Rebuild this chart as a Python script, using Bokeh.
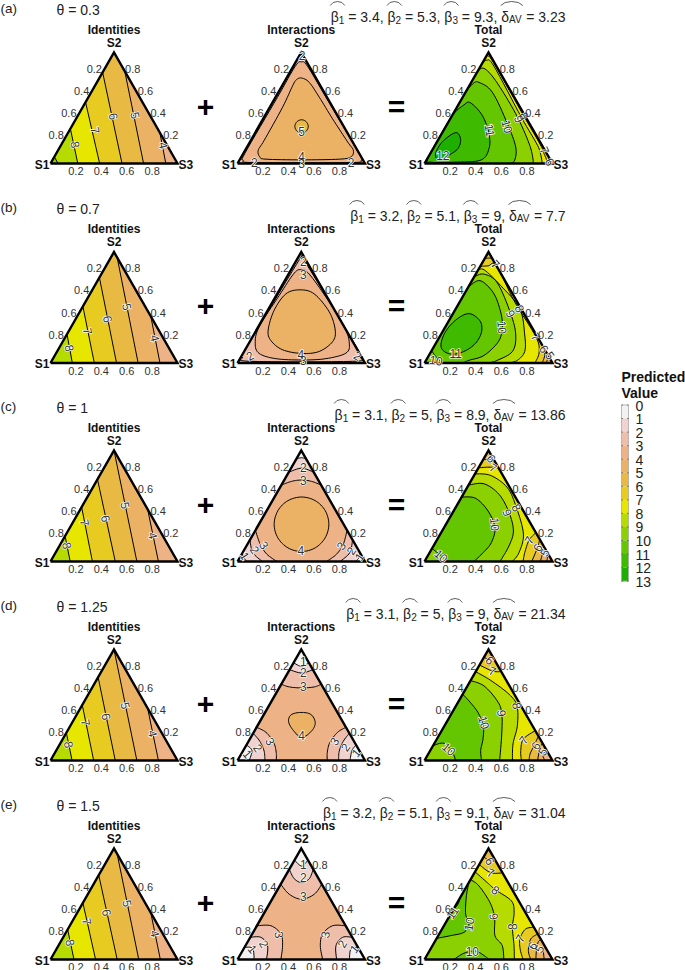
from collections import defaultdict
from bokeh.plotting import figure
from bokeh.models import Range1d, ColumnDataSource
from bokeh.embed import file_html
from bokeh.resources import INLINE

# All contour vertices and label positions below are compositions (p3, p2) read off
# the reference picture; a shape is (level, colour band, closure, vertices).
THETA = ["0.3", "0.7", "1", "1.25", "1.5"]
TAGS = ["(a)", "(b)", "(c)", "(d)", "(e)"]
BETA1 = ["3.4", "3.2", "3.1", "3.1", "3.2"]
BETA2 = ["5.3", "5.1", "5", "5", "5.1"]
BETA3 = ["9.3", "9", "8.9", "9", "9.1"]
DELTA = ["3.23", "7.7", "13.86", "21.34", "31.04"]
TICKS = [0.2, 0.4, 0.6, 0.8]
LEGEND_VALUES = list(range(14))
BAND_COLORS = ["#F2F2F2", "#F0D3CE", "#EFBEAA", "#EDB387", "#EBB265", "#E9BA43", "#E7CB21",
               "#E6E600", "#B6DB00", "#8BD000", "#63C600", "#3EBB00", "#1DB000"]

ID_A = [(4, 4, "S1S2", [(.722, .278), (.908, 0)]), (5, 5, "S1S2", [(.17, .83), (.733, 0)]),
        (6, 6, "S1", [(0, .821), (.563, 0)]), (7, 7, "S1", [(0, .552), (.387, 0)]),
        (8, 8, "S1", [(0, .313), (.215, 0)]), (9, 9, "S1", [(0, .06), (.06, 0)])]
ID_B = [(4, 4, "S1S2", [(.58, .42), (.862, 0)]), (5, 5, "S1S2", [(.05, .95), (.69, 0)]),
        (6, 6, "S1", [(0, .77), (.52, 0)]), (7, 7, "S1", [(0, .51), (.345, 0)]),
        (8, 8, "S1", [(0, .26), (.172, 0)])]
ID_C = [(4, 4, "S1S2", [(.53, .47), (.85, 0)]), (5, 5, "S1S2", [(0, 1), (.68, 0)]),
        (6, 6, "S1", [(0, .74), (.51, 0)]), (7, 7, "S1", [(0, .49), (.33, 0)]),
        (8, 8, "S1", [(0, .23), (.155, 0)])]
ID_D = [(4, 4, "S1S2", [(.53, .47), (.85, 0)]), (5, 5, "S1S2", [(0, 1), (.68, 0)]),
        (6, 6, "S1", [(0, .75), (.51, 0)]), (7, 7, "S1", [(0, .5), (.34, 0)]),
        (8, 8, "S1", [(0, .25), (.17, 0)])]
ID_E = [(4, 4, "S1S2", [(.58, .42), (.865, 0)]), (5, 5, "S1S2", [(.05, .95), (.695, 0)]),
        (6, 6, "S1", [(0, .76), (.525, 0)]), (7, 7, "S1", [(0, .51), (.355, 0)]),
        (8, 8, "S1", [(0, .27), (.185, 0)])]
ID_A_LABELS = [("8", .111, .17, -78), ("7", .204, .299, -78), ("6", .285, .424, -78), ("5", .451, .433, -78), ("4", .808, .164, -78)]
ID_B_LABELS = [("8", .083, .135, -78), ("7", .15, .288, -78), ("6", .253, .396, -78), ("5", .35, .505, -78), ("4", .711, .225, -78)]
ID_C_LABELS = [("8", .058, .144, -78), ("7", .094, .351, -78), ("6", .243, .387, -78), ("5", .337, .505, -78), ("4", .691, .234, -78)]
ID_D_LABELS = [("8", .072, .144, -78), ("7", .107, .342, -78), ("6", .241, .396, -78), ("5", .343, .495, -78), ("4", .685, .243, -78)]
ID_E_LABELS = [("8", .08, .153, -78), ("7", .117, .342, -78), ("6", .233, .423, -78), ("5", .352, .505, -78), ("4", .706, .234, -78)]

INT_A = [(3, 3, "loop", [(.045, .916), (.112, .875), (.395, .597), (.913, .084), (.956, .03), (.912, .009), (.5, .006),
                         (.087, .009), (.03, .03), (.012, .096), (.015, .597), (.015, .875)]),
         (4, 4, "loop", [(.118, .77), (.197, .731), (.343, .597), (.544, .403), (.767, .194), (.849, .119), (.86, .06),
                         (.779, .039), (.486, .033), (.203, .039), (.145, .06), (.103, .119), (.105, .209), (.1, .507),
                         (.082, .701), (.085, .755)]),
         (5, 5, "loop", [(.306, .394), (.351, .376), (.388, .334), (.393, .293), (.365, .275), (.319, .293), (.283, .334), (.278, .376)])]
INT_A_LABELS = [("2", .02, .975, 0), ("2", .127, .009, 0), ("2", .886, .009, 0), ("5", .361, .284, 0), ("4", .473, .06, 0), ("3", .5, .004, 0)]
INT_B = [(2, 2, "loop", [(.032, .941), (.097, .89), (.878, .128), (.941, .05), (.895, .015), (.097, .015), (.014, .05), (.001, .128), (.018, .89)]),
         (3, 3, "loop", [(.083, .84), (.162, .801), (.397, .593), (.675, .326), (.788, .178), (.806, .089), (.674, .039), (.489, .027),
                         (.281, .039), (.127, .086), (.05, .178), (.007, .326), (.023, .608), (.04, .81)]),
         (4, 4, "loop", [(.16, .659), (.29, .623), (.49, .46), (.618, .297), (.65, .193), (.589, .104), (.46, .086), (.294, .119),
                         (.161, .202), (.092, .297), (.05, .475), (.068, .623)])]
INT_B_LABELS = [("2", .06, .911, 0), ("3", .115, .801, 0), ("2", .064, .065, 30), ("2", .91, .065, -30), ("4", .457, .08, 0), ("3", .504, .024, 0)]
INT_C = [(4, 4, "loop", [(.212, .581), (.336, .548), (.459, .458), (.549, .335), (.581, .213), (.548, .123), (.458, .09), (.334, .123),
                         (.21, .213), (.12, .335), (.088, .458), (.121, .548)]),
         (3, 2, "S2", [(0, .689), (.063, .722), (.136, .734), (.22, .722), (.311, .689)]),
         (2, 1, "S2", [(0, .805), (.083, .841), (.195, .805)]),
         (1, 0, "S2", [(0, .925), (.035, .935), (.075, .925)]),
         (3, 2, "S3", [(.719, .281), (.752, .156), (.744, .066), (.699, 0)]),
         (2, 1, "S3", [(.805, .195), (.841, .08), (.805, 0)]),
         (1, 0, "S3", [(.925, .075), (.935, .0325), (.925, 0)]),
         (3, 2, "S1", [(0, .281), (.1, .156), (.197, .066), (.309, 0)]),
         (2, 1, "S1", [(0, .195), (.08, .08), (.195, 0)]),
         (1, 0, "S1", [(0, .075), (.0325, .0325), (.075, 0)])]
INT_C_LABELS = [("2", .094, .844, 0), ("3", .149, .734, 0), ("4", .449, .096, 0), ("3", .136, .147, -57), ("2", .084, .105, -57),
                ("1", .033, .05, -57), ("3", .741, .141, 57), ("2", .842, .096, 57), ("1", .934, .042, 57)]
INT_D = [(4, 4, "loop", [(.281, .433), (.368, .415), (.438, .343), (.449, .269), (.402, .206), (.305, .269), (.226, .349), (.215, .412)]),
         (3, 2, "S2", [(0, .687), (.075, .663), (.176, .654), (.271, .663), (.313, .687)]),
         (2, 1, "S2", [(0, .818), (.109, .788), (.182, .818)]),
         (1, 0, "S2", [(0, .88), (.079, .848), (.12, .88)]),
         (3, 2, "S3", [(.701, .299), (.658, .254), (.643, .164), (.667, .075), (.704, 0)]),
         (2, 1, "S3", [(.755, .245), (.743, .173), (.756, .084), (.793, 0)]),
         (1, 0, "S3", [(.86, .14), (.853, .09), (.882, 0)]),
         (3, 2, "S1", [(0, .299), (.096, .254), (.201, .164), (.266, .075), (.304, 0)]),
         (2, 1, "S1", [(0, .245), (.089, .173), (.167, .084), (.215, 0)]),
         (1, 0, "S1", [(0, .14), (.068, .09), (.092, 0)])]
INT_D_LABELS = [("1", .068, .896, 0), ("2", .117, .797, 0), ("3", .183, .666, 0), ("4", .391, .224, 0), ("3", .17, .173, -60), ("2", .106, .113, -55),
                ("1", .049, .06, -50), ("3", .673, .173, 60), ("2", .786, .119, 55), ("1", .895, .069, 50)]
INT_E = [(3, 2, "S2", [(0, .678), (.112, .588), (.231, .543), (.308, .588), (.322, .678)]),
         (2, 1, "S2", [(0, .812), (.081, .728), (.157, .693), (.199, .728), (.188, .812)]),
         (1, 0, "S2", [(0, .895), (.082, .842), (.105, .895)]),
         (3, 2, "S3", [(.696, .304), (.594, .304), (.553, .23), (.587, .125), (.668, 0)]),
         (2, 1, "S3", [(.8, .2), (.725, .2), (.71, .125), (.777, 0)]),
         (1, 0, "S3", [(.89, .11), (.842, .096), (.877, 0)]),
         (3, 2, "S1", [(0, .304), (.11, .304), (.225, .23), (.291, .125), (.34, 0)]),
         (2, 1, "S1", [(0, .2), (.083, .2), (.173, .125), (.228, 0)]),
         (1, 0, "S1", [(0, .11), (.068, .1), (.131, 0)])]
INT_E_LABELS = [("1", .088, .857, 0), ("2", .147, .737, 0), ("3", .233, .567, 0), ("3", .215, .224, -80), ("2", .139, .14, -60),
                ("1", .07, .096, -50), ("3", .576, .224, 80), ("2", .749, .14, 60), ("1", .868, .096, 50)]

TOT_A = [(7, 7, "S1", [(0, .96), (.01, .97), (.10, .895), (.55, .44), (.815, .175), (.88, .10), (.935, .035), (.95, 0)]),
         (8, 8, "S1", [(0, .90), (.02, .931), (.106, .875), (.55, .415), (.80, .165), (.875, .07), (.92, 0)]),
         (9, 9, "S1", [(0, .83), (.036, .857), (.183, .746), (.489, .448), (.728, .179), (.834, .03), (.84, 0)]),
         (10, 10, "S1", [(0, .648), (.02, .722), (.06, .731), (.209, .642), (.469, .358), (.638, .149), (.69, .03), (.67, 0)]),
         (11, 11, "loop", [(.087, .546), (.235, .433), (.369, .269), (.437, .134), (.424, .03), (.224, .012), (.046, .012),
                           (.004, .054), (0, .412), (.044, .528)]),
         (12, 12, "loop", [(.104, .278), (.173, .218), (.194, .134), (.153, .075), (.094, .036), (.044, .084), (.041, .194)]),
         (6, 5, "S3", [(.94, .06), (.955, .025), (.965, 0)])]
TOT_A_LABELS = [("12", .106, .075, 0), ("11", .362, .299, -80), ("10", .481, .334, -75), ("9", .537, .403, -65), ("8", .564, .43, -65),
                ("7", .88, .119, -65), ("6", .971, .015, -60)]
TOT_B = [(6, 5, "S2", [(0, .94), (.03, .945), (.06, .94)]),
         (7, 7, "S1", [(0, .87), (.06, .875), (.125, .875), (.42, .56), (.751, .237), (.844, .104), (.862, .015), (.85, 0)]),
         (8, 8, "S1", [(0, .83), (.045, .84), (.247, .697), (.499, .49), (.657, .252), (.731, .104), (.714, .024), (.66, 0)]),
         (9, 9, "S1", [(0, .777), (.064, .801), (.209, .721), (.451, .445), (.587, .252), (.635, .104), (.557, .024), (.5, 0)]),
         (10, 10, "S1", [(0, .682), (.062, .742), (.222, .632), (.365, .46), (.448, .32), (.481, .193), (.431, .068), (.335, .024), (.3, 0)]),
         (10, 9, "S1", [(.14, 0), (.07, .05), (0, .11)]),
         (11, 11, "loop", [(.125, .445), (.243, .38), (.305, .282), (.31, .178), (.256, .104), (.164, .08), (.061, .139), (.023, .267), (.05, .386)]),
         (6, 5, "S3", [(.855, .14), (.903, .074), (.919, 0)]),
         (5, 4, "S3", [(.93, .07), (.945, .03), (.95, 0)])]
TOT_B_LABELS = [("11", .199, .089, 0), ("10", .079, .024, -10), ("10", .448, .32, -85), ("9", .451, .445, -65), ("8", .499, .49, -65),
                ("7", .111, .89, -45), ("7", .751, .237, -55), ("6", .871, .128, -55), ("5", .948, .068, -55)]
TOT_C = [(8, 8, "S1", [(0, .79), (.13, .775), (.315, .665), (.476, .485), (.65, .246), (.698, .081), (.687, 0)]),
         (9, 9, "S1", [(0, .689), (.115, .70), (.28, .605), (.441, .44), (.557, .275), (.59, .141), (.59, 0)]),
         (10, 10, "S1", [(0, .581), (.115, .569), (.269, .455), (.398, .305), (.437, .171), (.419, .081), (.386, 0)]),
         (10, 9, "S1", [(.178, 0), (.097, .057), (0, .117)]),
         (7, 6, "S2", [(0, .844), (.079, .85), (.156, .844)]),
         (6, 5, "S2", [(0, .919), (.04, .92), (.081, .919)]),
         (7, 6, "S3", [(.74, .26), (.721, .192), (.743, .081), (.77, 0)]),
         (6, 5, "S3", [(.80, .2), (.82, .126), (.838, 0)]),
         (5, 4, "S3", [(.87, .13), (.885, .075), (.905, 0)]),
         (4, 3, "S3", [(.93, .07), (.945, .03), (.955, 0)])]
TOT_C_LABELS = [("10", .383, .335, -85), ("10", .105, .051, -40), ("9", .428, .44, -70), ("8", .476, .485, -60), ("7", .116, .844, -30),
                ("6", .058, .928, -50), ("7", .721, .192, 60), ("6", .82, .126, 60), ("5", .897, .081, 60)]
TOT_D = [(8, 8, "S1", [(0, .80), (.156, .722), (.362, .597), (.476, .493), (.569, .313), (.617, .149), (.687, 0)]),
         (9, 9, "S1", [(0, .72), (.129, .672), (.30, .537), (.39, .427), (.484, .239), (.587, 0)]),
         (10, 10, "S1", [(0, .597), (.079, .537), (.201, .433), (.303, .313), (.36, .194), (.394, .09), (.446, 0)]),
         (10, 9, "S1", [(0, .134), (.074, .155), (.18, .075), (.243, 0)]),
         (7, 6, "S2", [(0, .86), (.127, .806), (.194, .80)]),
         (6, 5, "S2", [(0, .93), (.06, .904), (.10, .90)]),
         (7, 6, "S3", [(.731, .269), (.676, .194), (.707, .09), (.757, 0)]),
         (6, 5, "S3", [(.78, .22), (.789, .134), (.795, .06), (.817, 0)]),
         (5, 4, "S3", [(.845, .155), (.844, .119), (.883, 0)]),
         (4, 3, "S3", [(.91, .09), (.90, .05), (.94, 0)])]
TOT_D_LABELS = [("6", .06, .904, -45), ("7", .127, .806, -20), ("8", .476, .493, -80), ("9", .39, .427, -85), ("10", .294, .343, -75),
                ("10", .139, .104, -40), ("7", .68, .185, 55), ("6", .802, .134, 55), ("5", .882, .081, 55)]
TOT_E = [(8, 8, "S1", [(0, .79), (.144, .693), (.242, .627), (.415, .528), (.488, .424), (.542, .29), (.637, .125), (.702, 0)]),
         (9, 9, "S1", [(0, .72), (.094, .663), (.255, .513), (.358, .379), (.443, .215), (.545, .125), (.62, 0)]),
         (10, 10, "", [(0, .69), (.047, .558), (.117, .409), (.188, .319), (.186, .245), (.097, .215), (0, .19)]),
         (10, 10, "", [(.23, 0), (.28, .057), (.362, .075), (.447, .036), (.504, 0)]),
         (11, 11, "", [(0, .44), (.012, .5), (0, .56)]),
         (7, 6, "S2", [(0, .855), (.126, .782), (.22, .78)]),
         (6, 5, "S2", [(0, .925), (.068, .887), (.11, .89)]),
         (7, 6, "S3", [(.71, .29), (.653, .275), (.651, .191), (.699, .096), (.77, 0)]),
         (6, 5, "S3", [(.77, .23), (.738, .185), (.771, .081), (.83, 0)]),
         (5, 4, "S3", [(.82, .18), (.81, .155), (.834, .081), (.87, 0)]),
         (4, 3, "S3", [(.885, .115), (.889, .081), (.935, 0)])]
TOT_E_LABELS = [("11", .005, .424, 55), ("10", .188, .319, 80), ("10", .336, .075, 0), ("9", .349, .388, -80), ("8", .242, .627, -35),
                ("8", .539, .296, 90), ("7", .126, .782, -20), ("6", .068, .887, -60), ("7", .651, .191, 60), ("6", .78, .125, 60), ("5", .848, .096, 60)]

PANELS = [
    [(3, ID_A, ID_A_LABELS), (2, INT_A, INT_A_LABELS), (6, TOT_A, TOT_A_LABELS)],
    [(3, ID_B, ID_B_LABELS), (1, INT_B, INT_B_LABELS), (6, TOT_B, TOT_B_LABELS)],
    [(3, ID_C, ID_C_LABELS), (3, INT_C, INT_C_LABELS), (7, TOT_C, TOT_C_LABELS)],
    [(3, ID_D, ID_D_LABELS), (3, INT_D, INT_D_LABELS), (7, TOT_D, TOT_D_LABELS)],
    [(3, ID_E, ID_E_LABELS), (3, INT_E, INT_E_LABELS), (7, TOT_E, TOT_E_LABELS)],
]
TITLES = ["Identities", "Interactions", "Total"]

# ---- layout
ROW_BASE = [163, 362.5, 561, 760, 959]
COL_X0 = [50, 237, 424]
COL_W = [127, 127.5, 128]
TRI_H = 111
FONT = "Liberation Sans"

p = figure(width=685, height=970, x_range=Range1d(0, 685), y_range=Range1d(970, 0),
           output_backend="svg", toolbar_location=None, min_border=0,
           x_axis_location=None, y_axis_location=None, margin=(0, 0, 0, 0))
p.grid.visible = False
p.outline_line_color = None
p.background_fill_color = "white"


def smooth(pts, closed=False, n=8):
    if len(pts) < 3:
        return list(pts)
    m = len(pts)
    out = []
    rng = range(m) if closed else range(m - 1)
    for i in rng:
        if closed:
            a, b, c, d = pts[(i - 1) % m], pts[i], pts[(i + 1) % m], pts[(i + 2) % m]
        else:
            a, b, c, d = pts[max(i - 1, 0)], pts[i], pts[i + 1], pts[min(i + 2, m - 1)]
        for k in range(n):
            t = k / n
            out.append(tuple(0.5 * (2 * b[j] + (c[j] - a[j]) * t + (2 * a[j] - 5 * b[j] + 4 * c[j] - d[j]) * t * t
                                    + (3 * b[j] - a[j] - 3 * c[j] + d[j]) * t ** 3) for j in (0, 1)))
    if not closed:
        out.append(pts[-1])
    return out


texts = defaultdict(lambda: defaultdict(list))


def add_text(x, y, s, size=11, bold=False, color="#333333", align="center", base="middle", angle=0):
    key = (size, bold, color, align, base)
    t = texts[key]
    t["x"].append(x)
    t["y"].append(y)
    t["s"].append(s)
    t["a"].append(angle)


halo = defaultdict(list)
fill_xs, fill_ys, fill_cs = [], [], []
line_xs, line_ys = [], []
tri_xs, tri_ys = [], []

for r, base_y in enumerate(ROW_BASE):
    for c in range(3):
        band0, shapes, labels = PANELS[r][c]
        x0, w = COL_X0[c], COL_W[c]
        pt = lambda q: (x0 + w * (q[0] + q[1] / 2), base_y - TRI_H * q[1])
        corners = {"S1": pt((0, 0)), "S2": pt((0, 1)), "S3": pt((1, 0))}
        tri = [corners["S1"], corners["S2"], corners["S3"]]
        fill_xs.append([q[0] for q in tri]); fill_ys.append([q[1] for q in tri]); fill_cs.append(BAND_COLORS[band0])
        for level, band, closure, verts in shapes:
            xy = [pt(v) for v in verts]
            loop = closure == "loop"
            curve = smooth(xy, closed=loop)
            poly = list(curve)
            if not loop:
                for name in [closure[i:i + 2] for i in range(0, len(closure), 2)]:
                    poly.append(corners[name])
            fill_xs.append([q[0] for q in poly]); fill_ys.append([q[1] for q in poly]); fill_cs.append(BAND_COLORS[band])
            if loop:
                curve = curve + [curve[0]]
            line_xs.append([q[0] for q in curve]); line_ys.append([q[1] for q in curve])
        tri_xs.append([q[0] for q in tri + tri[:1]]); tri_ys.append([q[1] for q in tri + tri[:1]])
        for s, a3, a2, ang in labels:
            lx, ly = pt((a3, a2))
            halo["x"].append(lx); halo["y"].append(ly); halo["s"].append(s); halo["a"].append(ang * 3.14159265 / 180)
        for tv in TICKS:
            lab = f"{tv:.1f}"
            bx, by = pt((tv, 0))
            add_text(bx, by + 7.5, lab)
            lx, ly = pt((0, 1 - tv))
            add_text(lx - 7, ly - 6, lab)
            rx, ry = pt((1 - tv, tv))
            add_text(rx + 6, ry - 6, lab)
        ax, ay = corners["S2"]
        add_text(ax, ay - 23, TITLES[c], size=12, bold=True, color="#111111")
        add_text(ax, ay - 10, "S2", size=12, bold=True, color="#111111")
        add_text(corners["S1"][0] - 1, base_y + 1, "S1", size=12, bold=True, color="#111111", align="right")
        add_text(corners["S3"][0] + 1, base_y + 1, "S3", size=12, bold=True, color="#111111", align="left")

p.patches(fill_xs, fill_ys, fill_color=fill_cs, line_color=None)
p.multi_line(line_xs, line_ys, line_color="black", line_width=1)
p.multi_line(tri_xs, tri_ys, line_color="black", line_width=2.4, line_join="miter")

src = ColumnDataSource(dict(x=halo["x"], y=halo["y"], s=halo["s"], a=halo["a"]))
p.text("x", "y", text="s", angle="a", source=src, text_color="white", text_outline_color="white",
       text_font=dict(value=FONT), text_font_size="12px", text_font_style="bold", text_align="center", text_baseline="middle")
p.text("x", "y", text="s", angle="a", source=src, text_color="#333333",
       text_font=dict(value=FONT), text_font_size="12px", text_align="center", text_baseline="middle")

# ---- row annotations
CHAR_W = {".": .278, ",": .278, " ": .278, "=": .584, "β": .575, "δ": .556, "A": .667, "V": .667}
cw = lambda s, size: sum(CHAR_W.get(ch, .556) for ch in s) * size
hat_xs, hat_ys = [], []
for r in range(5):
    dy = 199 * r
    add_text(0, 8 + dy, TAGS[r], size=13.5, color="#222222", align="left")
    add_text(56, 9 + dy, f"θ = {THETA[r]}", size=14, color="#222222", align="left")
    add_text(205, 106 + dy, "+", size=30, bold=True, color="black")
    add_text(396, 106 + dy, "=", size=30, bold=True, color="black")
    terms = [("β", "1", BETA1[r] + ", "), ("β", "2", BETA2[r] + ", "), ("β", "3", BETA3[r] + ", "), ("δ", "AV", DELTA[r])]
    total = sum(cw(a, 14) + cw(b, 10) + cw(" = " + v, 14) for a, b, v in terms)
    x = 565 - total
    base = 16 + dy
    for a, b, v in terms:
        start = x
        add_text(x, base, a, size=14, color="#222222", align="left", base="alphabetic")
        x += cw(a, 14)
        add_text(x, base + 3, b, size=10, color="#222222", align="left", base="alphabetic")
        x += cw(b, 10)
        hw = x - start + 1
        hat_xs.append([start - .5 + hw * f for f in (0, .2, .5, .8, 1)])
        hat_ys.append([base - 11, base - 14, base - 15, base - 14, base - 11])
        rest = "= " + v.rstrip()
        add_text(x + cw(" ", 14), base, rest, size=14, color="#222222", align="left", base="alphabetic")
        x += cw(" = " + v, 14)
p.multi_line(hat_xs, hat_ys, line_color="#333333", line_width=0.8)

# ---- legend
LX0, LX1, LY0, LSTEP = 621, 628, 404.5, 13.55
add_text(LX0, 376, "Predicted", size=14, bold=True, color="#111111", align="left")
add_text(LX0, 392, "Value", size=14, bold=True, color="#111111", align="left")
p.quad(left=[LX0] * 13, right=[LX1] * 13,
       top=[LY0 + LSTEP * v for v in LEGEND_VALUES[:-1]], bottom=[LY0 + LSTEP * (v + 1) for v in LEGEND_VALUES[:-1]],
       fill_color=BAND_COLORS, line_color=None)
p.quad(left=[LX0], right=[LX1], top=[LY0], bottom=[LY0 + LSTEP * 13], fill_color=None, line_color="#AAAAAA", line_width=0.8)
p.segment(x0=[LX0] * 14, x1=[LX0 + 1.5] * 14, y0=[LY0 + LSTEP * v for v in LEGEND_VALUES],
          y1=[LY0 + LSTEP * v for v in LEGEND_VALUES], line_color="#555555", line_width=0.8)
p.segment(x0=[LX1 - 1.5] * 14, x1=[LX1] * 14, y0=[LY0 + LSTEP * v for v in LEGEND_VALUES],
          y1=[LY0 + LSTEP * v for v in LEGEND_VALUES], line_color="#555555", line_width=0.8)
for v in LEGEND_VALUES:
    add_text(635, LY0 + LSTEP * v + .5, str(v), size=14, color="#222222", align="left")

for (size, bold, color, align, base), t in texts.items():
    s = ColumnDataSource(dict(x=t["x"], y=t["y"], s=t["s"]))
    p.text("x", "y", text="s", source=s, text_font=dict(value=FONT), text_font_size=f"{size}px",
           text_font_style="bold" if bold else "normal", text_color=color, text_align=align, text_baseline=base)

open("out.html", "w").write(file_html(p, INLINE))
